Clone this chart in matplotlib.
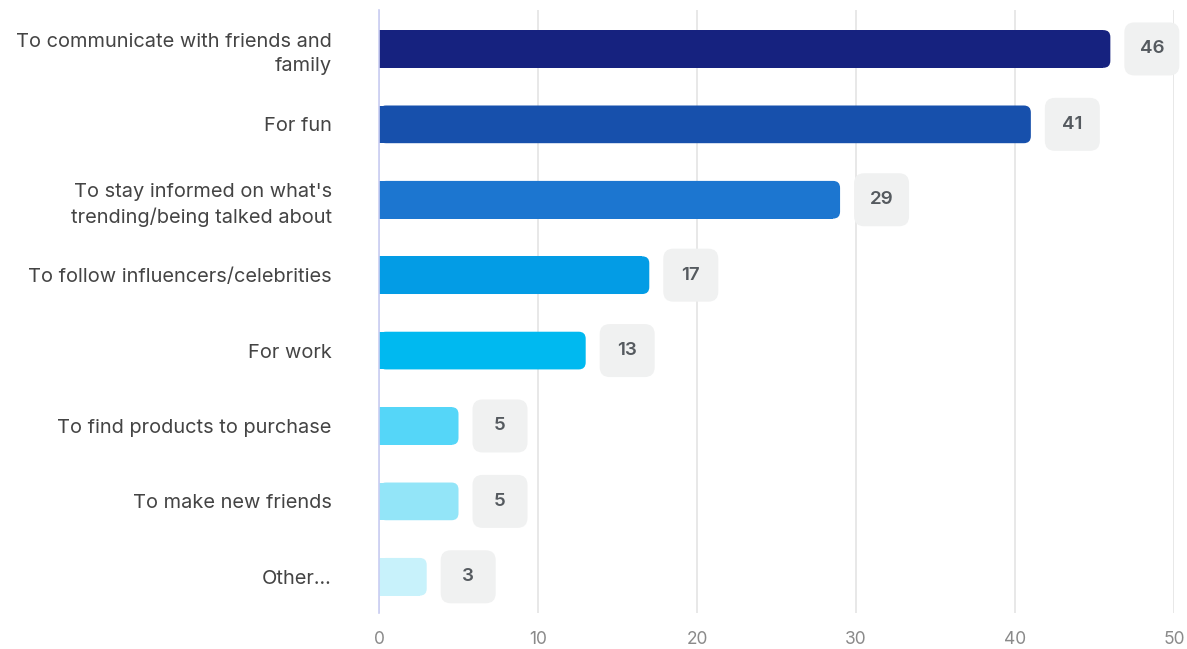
import matplotlib.pyplot as plt
from matplotlib.patches import FancyBboxPatch, Rectangle

plt.rcParams['font.family'] = ['Inter', 'DejaVu Sans']

categories = ["To communicate with friends and\nfamily", "For fun",
              "To stay informed on what's\ntrending/being talked about",
              "To follow influencers/celebrities", "For work",
              "To find products to purchase", "To make new friends", "Other..."]
values = [46, 41, 29, 17, 13, 5, 5, 3]
colors = ['#16227f', '#1750ac', '#1c76d0', '#039ce5', '#00b9f0',
          '#55d6f8', '#93e5f8', '#c8f2fb']
xticks = [0, 10, 20, 30, 40, 50]

fig = plt.figure(figsize=(11.87, 6.49), dpi=100)
ax = fig.add_axes([0.3193, 0.0555, 0.6697, 0.9295])
ax.set_xlim(0, 50)
ax.set_ylim(7.48, -0.52)

# pixel -> data scale
px_x = 50 / (0.6697 * 1187)
px_y = 8 / (0.9295 * 649)

bar_h = 0.5
r = 7 * px_x
asp = px_y / px_x
for i, (v, c) in enumerate(zip(values, colors)):
    ax.add_patch(FancyBboxPatch((0, i - bar_h / 2), v, bar_h,
                                boxstyle=f"round,pad=0,rounding_size={r}",
                                mutation_aspect=asp, fc=c, ec='none', zorder=3))
    ax.add_patch(Rectangle((0, i - bar_h / 2), v - r, bar_h, fc=c, ec='none', zorder=3))
    # value badge
    bw, bh = 55 * px_x, 53 * px_y
    x0 = v + 14 * px_x
    ax.add_patch(FancyBboxPatch((x0, i - bh / 2), bw, bh,
                                boxstyle=f"round,pad=0,rounding_size={10 * px_x}",
                                mutation_aspect=asp, fc='#f0f1f1', ec='none',
                                zorder=3, clip_on=False))
    ax.text(x0 + bw / 2, i, str(v), ha='center', va='center', fontsize=13.5,
            fontweight='semibold', color='#555a5f', zorder=4)

ax.set_yticks(range(len(categories)))
ax.set_yticklabels(categories, fontsize=14.4, color='#444444', linespacing=1.4)
ax.set_xticks(xticks)
ax.set_xticklabels([str(t) for t in xticks], fontsize=12.5, color='#8a8a8a')
ax.tick_params(axis='y', length=0, pad=34)
ax.tick_params(axis='x', length=0, pad=13)

ax.grid(axis='x', color='#e6e6e6', linewidth=1.3, zorder=0)
for s in ['top', 'right', 'bottom']:
    ax.spines[s].set_visible(False)
ax.spines['left'].set_color('#c9cdf2')
ax.spines['left'].set_linewidth(1.2)
ax.spines['left'].set_zorder(5)

fig.savefig('out.png', dpi=100)
